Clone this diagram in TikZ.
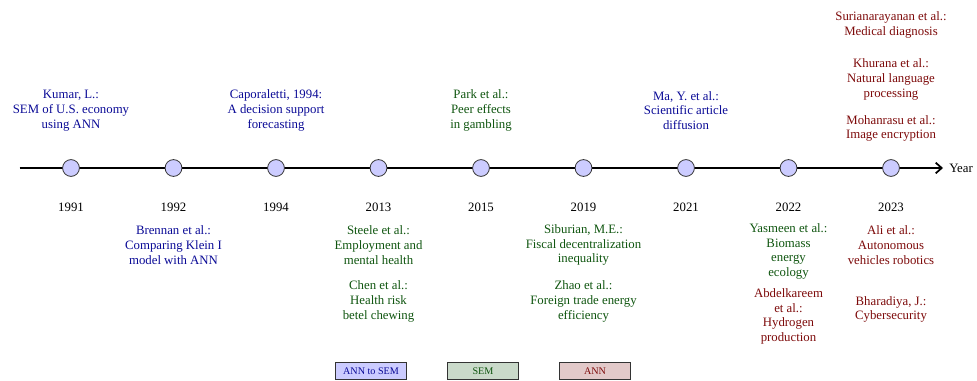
\documentclass[tikz,border=0pt]{standalone}
\usepackage{fontspec}
\setmainfont{Liberation Serif}
\usetikzlibrary{arrows.meta}
\definecolor{asblue}{RGB}{10,10,150}
\definecolor{semgreen}{RGB}{15,85,15}
\definecolor{annred}{RGB}{125,10,10}
\tikzset{
  txt/.style={align=center, inner sep=0pt, font=\fontsize{9.6}{11.1}\selectfont},
  colAS/.style={txt, text=asblue},
  colS/.style={txt, text=semgreen},
  colA/.style={txt, text=annred},
  yr/.style={txt, text=black},
  dot/.style={circle, draw=black!80, line width=0.6pt, fill=blue!20, minimum size=12.6pt, inner sep=0pt},
  axisline/.style={line width=1.5pt, -{Straight Barb[length=4.5pt,width=8pt,line width=1.3pt]}},
  legbox/.style={draw=black!80, line width=0.6pt, minimum width=53.6pt, minimum height=12.4pt, inner sep=0pt, font=\fontsize{7.6}{9}\selectfont}
}
\begin{document}
\begin{tikzpicture}[x=0.75pt,y=-0.75pt]
\useasboundingbox (0,0) rectangle (977,381);
% axis
\coordinate (axstart) at (19.5,168);
\coordinate (axend) at (943,168);
\draw[axisline] (axstart) -- (axend);
\node[txt, anchor=west] (yearlbl) at (949,168) {Year};
% dots and years
\foreach \n/\x/\y in {a/71/1991, b/173.5/1992, c/276/1994, d/378.5/2013, e/481/2015, f/583.5/2019, g/686/2021, h/788.5/2022, i/891/2023}{
  \node[dot] (dot\n) at (\x,168) {};
  \node[yr] (yr\n) at (\x,207) {\y};
}
% above
\node[colAS] (kumar) at (71,110.5) {Kumar, L.:\\SEM of U.S. economy\\using ANN};
\node[colAS] (capo) at (276,110.5) {Caporaletti, 1994:\\A decision support\\forecasting};
\node[colS] (park) at (481,110.5) {Park et al.:\\Peer effects\\in gambling};
\node[colAS] (ma) at (686,110.5) {Ma, Y. et al.:\\Scientific article\\diffusion};
\node[colA] (suri) at (891,25) {Surianarayanan et al.:\\Medical diagnosis};
\node[colA] (khur) at (891,79.5) {Khurana et al.:\\Natural language\\processing};
\node[colA] (mohan) at (891,128.5) {Mohanrasu et al.:\\Image encryption};
% below
\node[colAS] (brennan) at (173.5,245) {Brennan et al.:\\Comparing Klein I\\model with ANN};
\node[colS] (steele) at (378.5,245) {Steele et al.:\\Employment and\\mental health};
\node[colS] (chen) at (378.5,301.5) {Chen et al.:\\Health risk\\betel chewing};
\node[colS] (sibur) at (583.5,245) {Siburian, M.E.:\\Fiscal decentralization\\inequality};
\node[colS] (zhao) at (583.5,301.5) {Zhao et al.:\\Foreign trade energy\\efficiency};
\node[colS] (yasm) at (788.5,251.5) {Yasmeen et al.:\\Biomass\\energy\\ecology};
\node[colA] (abdel) at (788.5,316.5) {Abdelkareem\\et al.:\\Hydrogen\\production};
\node[colA] (ali) at (891,245) {Ali et al.:\\Autonomous\\vehicles robotics};
\node[colA] (bhara) at (891,309.5) {Bharadiya, J.:\\Cybersecurity};
% legend
\node[legbox, fill=blue!20, text=asblue] (legAS) at (371,371) {ANN to SEM};
\node[legbox, fill=semgreen!22, text=semgreen] (legS) at (483,371) {SEM};
\node[legbox, fill=annred!22, text=annred] (legA) at (595,371) {ANN};
\end{tikzpicture}
\end{document}
